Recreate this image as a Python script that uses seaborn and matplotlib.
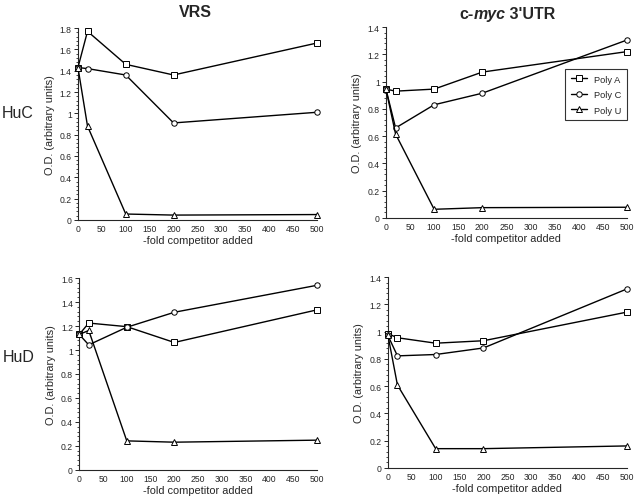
"""
Competition assays: HuC / HuD binding to VRS and c-myc 3'UTR with poly(A/C/U) competitors.
"""

import pandas as pd
import matplotlib
matplotlib.use("Agg")
import matplotlib.pyplot as plt
from matplotlib.ticker import AutoMinorLocator, MultipleLocator
import seaborn as sns

sns.set_style("ticks")
plt.rcParams["font.family"] = ["Liberation Sans", "DejaVu Sans"]

# competitor excess (fold)
fold = [0, 20, 100, 200, 500]
series = ["Poly A", "Poly C", "Poly U"]
markers = {"Poly A": "s", "Poly C": "o", "Poly U": "^"}

# O.D. readings
hucvrs_a = [1.43, 1.77, 1.46, 1.36, 1.66]
hucvrs_c = [1.43, 1.42, 1.36, 0.91, 1.01]
hucvrs_u = [1.43, 0.88, 0.055, 0.045, 0.05]

hucmyc_a = [0.945, 0.93, 0.945, 1.07, 1.22]
hucmyc_c = [0.945, 0.66, 0.83, 0.915, 1.305]
hucmyc_u = [0.945, 0.615, 0.063, 0.075, 0.078]

hudvrs_a = [1.13, 1.225, 1.195, 1.063, 1.335]
hudvrs_c = [1.13, 1.043, 1.19, 1.315, 1.54]
hudvrs_u = [1.13, 1.163, 0.242, 0.231, 0.248]

hudmyc_a = [0.985, 0.955, 0.915, 0.933, 1.143]
hudmyc_c = [0.972, 0.822, 0.832, 0.88, 1.313]
hudmyc_u = [0.976, 0.608, 0.141, 0.141, 0.161]

panels = [
    # (rect, ymax, data)
    ([0.122, 0.560, 0.374, 0.382], 1.8, [hucvrs_a, hucvrs_c, hucvrs_u]),
    ([0.604, 0.564, 0.377, 0.380], 1.4, [hucmyc_a, hucmyc_c, hucmyc_u]),
    ([0.124, 0.062, 0.372, 0.382], 1.6, [hudvrs_a, hudvrs_c, hudvrs_u]),
    ([0.607, 0.066, 0.374, 0.380], 1.4, [hudmyc_a, hudmyc_c, hudmyc_u]),
]

fig = plt.figure(figsize=(6.39, 5.02), dpi=100)
axes = []
for rect, ymax, vals in panels:
    ax = fig.add_axes(rect)
    for name, v in zip(series, vals):
        df = pd.DataFrame({"fold": fold, "od": v})
        sns.lineplot(data=df, x="fold", y="od", ax=ax, color="black",
                     marker=markers[name], markersize=3.9, markerfacecolor="white",
                     markeredgecolor="black", markeredgewidth=0.7,
                     linewidth=1.0, clip_on=False, label=name, zorder=3)
    ax.set_xlim(0, 500)
    ax.set_ylim(0, ymax)
    ax.xaxis.set_major_locator(MultipleLocator(50))
    ax.yaxis.set_major_locator(MultipleLocator(0.2))
    ax.yaxis.set_minor_locator(AutoMinorLocator(5))
    ax.yaxis.set_major_formatter(plt.FuncFormatter(lambda v, p: f"{v:g}"))
    ax.tick_params(axis="x", length=0, pad=3, labelsize=6.2)
    ax.tick_params(axis="y", which="major", length=3, width=0.7, pad=1.5, labelsize=6.2)
    ax.tick_params(axis="y", which="minor", length=1.6, width=0.6)
    for s in ["top", "right"]:
        ax.spines[s].set_visible(False)
    for s in ["left", "bottom"]:
        ax.spines[s].set_linewidth(0.8)
    ax.set_xlabel("-fold competitor added", fontsize=7.9)
    ax.set_ylabel("O.D. (arbitrary units)", fontsize=7.9)
    ax.xaxis.set_label_coords(0.5, -0.078)
    ax.yaxis.set_label_coords(-0.098, 0.5)
    ax.get_legend().remove()
    axes.append(ax)

# legend only in the c-myc / HuC panel
leg = axes[1].legend(loc="upper right", bbox_to_anchor=(1.0, 0.78), borderaxespad=0,
                     fontsize=6.7, frameon=True, fancybox=False, handlelength=1.8,
                     handletextpad=0.7, borderpad=0.6, labelspacing=0.7)
leg.get_frame().set_edgecolor("black")
leg.get_frame().set_linewidth(0.8)

# column titles
fig.text(0.305, 0.975, "VRS", ha="center", va="center", fontsize=11.5, fontweight="bold")
t1 = fig.text(0.714, 0.975, "c-", ha="left", va="center", fontsize=11.5, fontweight="bold")
t2 = fig.text(0, 0, "myc", fontsize=11.5, fontweight="bold", fontstyle="italic",
              ha="left", va="baseline")
t3 = fig.text(0, 0, " 3'UTR", fontsize=11.5, fontweight="bold", ha="left", va="baseline")
fig.canvas.draw()
r = fig.canvas.get_renderer()
inv = fig.transFigure.inverted()
tw = sum(t.get_window_extent(r).width for t in (t1, t2, t3))
x0 = 0.794 - (tw / 2) / fig.bbox.width
t1.set_x(x0)
t1.set_va("baseline")
t1.set_y(0.962)
fig.canvas.draw()
b1 = t1.get_window_extent(r)
t2.set_position((inv.transform((b1.x1, 0))[0], 0.962))
fig.canvas.draw()
b2 = t2.get_window_extent(r)
t3.set_position((inv.transform((b2.x1, 0))[0], 0.962))

# row labels
fig.text(0.028, 0.773, "HuC", ha="center", va="center", fontsize=11.5)
fig.text(0.030, 0.287, "HuD", ha="center", va="center", fontsize=11.5)

fig.savefig("out.png", dpi=100)
